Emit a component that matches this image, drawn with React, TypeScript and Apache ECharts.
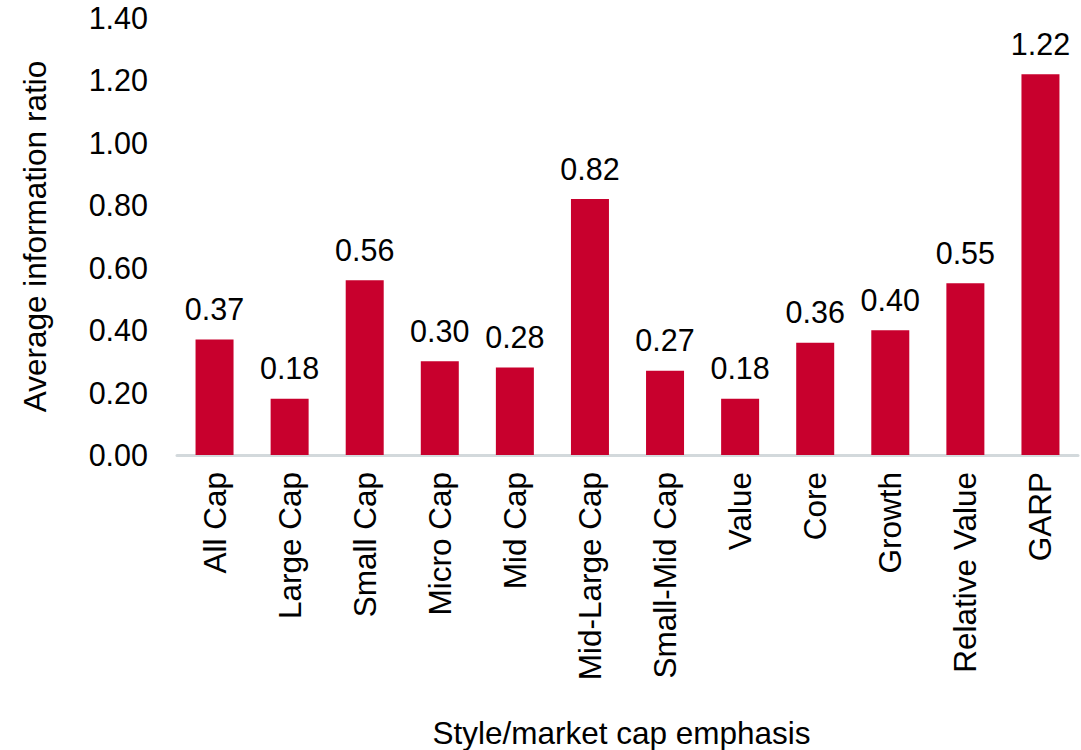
import React, { useEffect, useRef } from "react";
import * as echarts from "echarts";

const categories = [
  "All Cap",
  "Large Cap",
  "Small Cap",
  "Micro Cap",
  "Mid Cap",
  "Mid-Large Cap",
  "Small-Mid Cap",
  "Value",
  "Core",
  "Growth",
  "Relative Value",
  "GARP",
];
const values = [0.37, 0.18, 0.56, 0.3, 0.28, 0.82, 0.27, 0.18, 0.36, 0.4, 0.55, 1.22];

const FONT = "'Liberation Sans', Arial, sans-serif";
const TXT = 31.5;
const NUM = 30.5;

export default function App() {
  const ref = useRef<HTMLDivElement>(null);
  useEffect(() => {
    if (!ref.current) return;
    const chart = echarts.init(ref.current, undefined, { renderer: "svg" });
    chart.setOption({
      animation: false,
      backgroundColor: "#ffffff",
      textStyle: { fontFamily: FONT },
      grid: {
        left: 177,
        right: 3,
        top: 18,
        bottom: 295,
        containLabel: false,
        outerBoundsMode: "none",
      },
      xAxis: {
        type: "category",
        data: categories,
        name: "Style/market cap emphasis",
        nameLocation: "middle",
        nameGap: 262,
        nameTextStyle: {
          fontSize: TXT,
          color: "#000",
          fontFamily: FONT,
          padding: [0, 12, 0, 0],
        },
        axisLine: { lineStyle: { color: "#d3d9dc", width: 3 } },
        axisTick: { show: false },
        axisLabel: {
          rotate: 90,
          fontSize: TXT,
          color: "#000",
          margin: 17,
          interval: 0,
          fontFamily: FONT,
        },
      },
      yAxis: {
        type: "value",
        min: 0,
        max: 1.4,
        interval: 0.2,
        name: "Average information ratio",
        nameLocation: "middle",
        nameGap: 126,
        nameTextStyle: { fontSize: TXT, color: "#000", fontFamily: FONT },
        axisLine: { show: false },
        axisTick: { show: false },
        splitLine: { show: false },
        axisLabel: {
          fontSize: NUM,
          color: "#000",
          margin: 29,
          fontFamily: FONT,
          formatter: (v: number) => v.toFixed(2),
        },
      },
      series: [
        {
          type: "bar",
          data: values,
          barWidth: 38,
          itemStyle: { color: "#C8002D" },
          label: {
            show: true,
            position: "top",
            distance: 15,
            fontSize: NUM,
            color: "#000",
            fontFamily: FONT,
            formatter: (p: any) => Number(p.value).toFixed(2),
          },
        },
      ],
    });
    return () => chart.dispose();
  }, []);
  return (
    <div
      ref={ref}
      style={{ position: "fixed", left: 0, top: 0, width: 1081, height: 750 }}
    />
  );
}
